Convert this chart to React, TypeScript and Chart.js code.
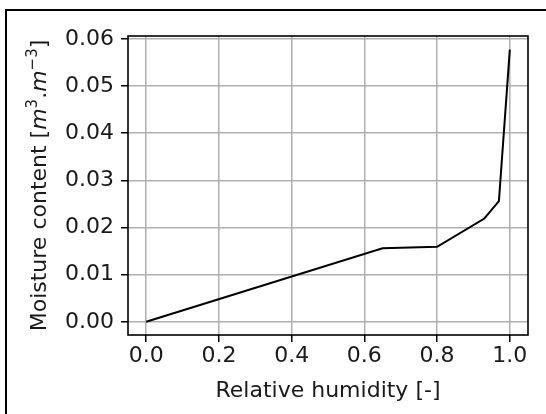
import React, { useEffect, useRef } from "react";
import { Chart, registerables } from "chart.js";

Chart.register(...registerables);

// ---- data ----
const humidity = [0, 0.65, 0.8, 0.93, 0.97, 1.0];
const moisture = [0, 0.0156, 0.0159, 0.0219, 0.0256, 0.0577];
const xTicks = [0, 0.2, 0.4, 0.6, 0.8, 1.0];
const yTicks = [0, 0.01, 0.02, 0.03, 0.04, 0.05, 0.06];
const xTitle = "Relative humidity [-]";
// y title pieces: [text, kind]  (kind: n = normal, i = italic math, s = superscript)
const yTitleParts: [string, string][] = [
  ["Moisture content [", "n"],
  ["m", "i"],
  ["3", "s"],
  [".", "n"],
  ["m", "i"],
  ["\u22123", "s"],
  ["]", "n"],
];

const FONT = '"DejaVu Sans", sans-serif';
const FS = 22;
const TEXT = "#1a1a1a";

const frameAndTitlePlugin = {
  id: "frameAndTitle",
  afterDatasetsDraw(chart: any) {
    const { ctx, chartArea: a } = chart;
    ctx.save();
    ctx.strokeStyle = "#000";
    ctx.lineWidth = 1.6;
    ctx.strokeRect(a.left, a.top, a.right - a.left, a.bottom - a.top);
    ctx.restore();
  },
  afterDraw(chart: any) {
    const { ctx, chartArea: a } = chart;
    const cy = (a.top + a.bottom) / 2;
    const bx = 45.5;
    const fontFor = (k: string) =>
      k === "i"
        ? `italic ${FS}px ${FONT}`
        : k === "s"
        ? `${Math.round(FS * 0.7)}px ${FONT}`
        : `${FS}px ${FONT}`;
    ctx.save();
    let total = 0;
    const widths = yTitleParts.map(([t, k]) => {
      ctx.font = fontFor(k);
      const w = ctx.measureText(t).width;
      total += w;
      return w;
    });
    ctx.translate(bx, cy);
    ctx.rotate(-Math.PI / 2);
    ctx.textBaseline = "alphabetic";
    ctx.textAlign = "left";
    ctx.fillStyle = TEXT;
    let x = -total / 2;
    yTitleParts.forEach(([t, k], i) => {
      ctx.font = fontFor(k);
      ctx.fillText(t, x, k === "s" ? -9 : 0);
      x += widths[i];
    });
    ctx.restore();
  },
};

export default function App() {
  const ref = useRef<HTMLCanvasElement | null>(null);

  useEffect(() => {
    if (!ref.current) return;
    const chart = new Chart(ref.current, {
      type: "line",
      data: {
        datasets: [
          {
            data: humidity.map((h, i) => ({ x: h, y: moisture[i] })),
            borderColor: "#000",
            borderWidth: 2,
            pointRadius: 0,
            tension: 0,
            fill: false,
          },
        ],
      },
      options: {
        animation: false,
        responsive: false,
        devicePixelRatio: 1,
        layout: { padding: { top: 36, right: 18, left: 0, bottom: 0 } },
        plugins: { legend: { display: false }, tooltip: { enabled: false } },
        scales: {
          x: {
            type: "linear",
            min: -0.05,
            max: 1.05,
            afterBuildTicks: (s: any) => {
              s.ticks = xTicks.map((v) => ({ value: v }));
            },
            afterFit: (s: any) => {
              s.height = 79;
            },
            ticks: {
              callback: (v: any) => Number(v).toFixed(1),
              font: { family: FONT, size: FS },
              color: TEXT,
              padding: 1,
              maxRotation: 0,
              autoSkip: false,
            },
            grid: {
              color: "#b0b0b0",
              lineWidth: 1.5,
              tickColor: "#000",
              tickWidth: 1.5,
              tickLength: 7,
            },
            border: { display: false },
            title: {
              display: true,
              text: xTitle,
              font: { family: FONT, size: FS },
              color: TEXT,
              padding: { top: 0, bottom: 10 },
            },
          },
          y: {
            type: "linear",
            min: -0.0028,
            max: 0.0606,
            afterBuildTicks: (s: any) => {
              s.ticks = yTicks.map((v) => ({ value: v }));
            },
            afterFit: (s: any) => {
              s.width = 128;
            },
            ticks: {
              callback: (v: any) => Number(v).toFixed(2),
              font: { family: FONT, size: FS },
              color: TEXT,
              padding: 7,
              autoSkip: false,
            },
            grid: {
              color: "#b0b0b0",
              lineWidth: 1.5,
              tickColor: "#000",
              tickWidth: 1.5,
              tickLength: 7,
            },
            border: { display: false },
          },
        },
      },
      plugins: [frameAndTitlePlugin],
    } as any);
    return () => chart.destroy();
  }, []);

  return (
    <div
      style={{
        position: "fixed",
        left: 0,
        top: 0,
        width: 546,
        height: 414,
        overflow: "hidden",
        background: "#fff",
      }}
    >
      <canvas
        ref={ref}
        width={546}
        height={414}
        style={{ display: "block", width: 546, height: 414 }}
      />
      <div
        style={{
          position: "absolute",
          left: 5,
          top: 9,
          width: 600,
          height: 500,
          borderLeft: "2px solid #000",
          borderTop: "2px solid #000",
          pointerEvents: "none",
        }}
      />
    </div>
  );
}
